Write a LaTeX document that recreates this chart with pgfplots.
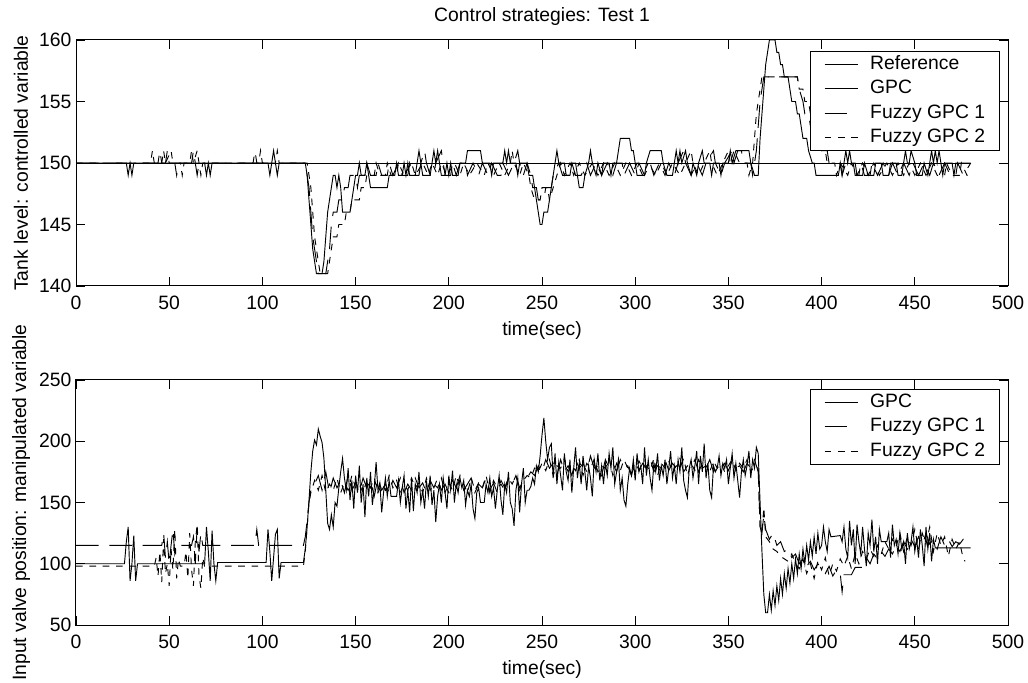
\documentclass[border=0pt]{standalone}
\usepackage{fontspec}
\setmainfont{Liberation Sans}
\usepackage{pgfplots}
\pgfplotsset{compat=1.18}
\pgfplotsset{
  matstyle/.style={
    scale only axis, width=699pt,
    xmin=0, xmax=500, xtick={0,50,...,500},
    tick align=inside, major tick length=6.75pt,
    xtick pos=both, ytick pos=both,
    xticklabel pos=lower, yticklabel pos=left,
    axis line style={line width=0.75pt},
    tick style={black, line width=0.7pt},
    /pgf/number format/assume math mode=true,
    /pgf/number format/1000 sep={},
    ticklabel style={font=\fontsize{14.5}{17}\selectfont},
    xticklabel style={yshift=-4pt},
    label style={font=\fontsize{14.5}{17}\selectfont},
    xlabel={time(sec)},
    every axis y label/.style={at={(axis description cs:-0.059,0.5)}, anchor=center, rotate=90},
    every axis title shift=0pt,
    legend cell align=left,
    legend image code/.code={\draw[#1] (0pt,0pt) -- (24.75pt,0pt);},
    legend style={anchor=north east, draw=black, line width=0.7pt, fill=white,
      inner xsep=10.5pt, inner ysep=3pt, row sep=4.8pt, column sep=9pt,
      font=\fontsize{14.5}{17}\selectfont,
      nodes={inner sep=0pt, text height=10.5pt, text depth=3pt}},
  },
  refl/.style={black, line width=0.7pt},
  gpcl/.style={black, line width=0.7pt},
  fz1l/.style={black, line width=0.7pt, dash pattern=on 17pt off 8pt},
  fz2l/.style={black, line width=0.7pt, dash pattern=on 5pt off 5pt},
}
\begin{document}
\begin{tikzpicture}[font=\fontsize{14.5}{17}\selectfont]
% ---------------- top axis ----------------
\begin{axis}[matstyle,
  at={(57pt,297pt)}, anchor=south west, height=184.5pt,
  ymin=140, ymax=160, ytick={140,145,...,160},
  ylabel={Tank level: controlled variable},
  every axis x label/.style={at={(axis description cs:0.5,-0.179)}, anchor=center},
  title={Control strategies: Test 1},
  title style={at={(axis description cs:0.5,1.0935)}, anchor=center, font=\fontsize{14.5}{17}\selectfont},
  legend style={at={(axis description cs:0.991,0.955)}},
]
\addplot[refl] coordinates {(0,150)(480,150)};
\addlegendentry{Reference}
\addplot[gpcl] coordinates {
(0,150)(27,150)(28,149)(29,150)(30,149)(31,150)(69,150)(70,149)(71,150)(72,149)(73,150)(103,150)(104,149)(105,150)(106,151)(107,150)(108,149)(109,150)
(123,150)(124,149)(125,147)(126,145)(127,143)(128,142)(129,141)(132,141)(133,142)(134,144)(135,146)(136,147)(137,148)(138,149)(139,149)(140,148)(141,149)(142,148)(143,146)(147,146)(148,147)(149,148)(150,149)(151,149)(152,150)(153,149)(155,149)(156,150)(157,149)(158,148)(167,148)(168,149)
(171,149)(172,150)(173,149)(175,149)(176,150)(177,149)(178,150)(179,149)(182,149)(183,150)(184,151)(185,150)(186,149)(190,149)(191,150)(192,151)(193,150)(194,151)(195,150)(196,149)(198,149)(199,150)(200,149)(201,150)(202,149)(205,149)(206,150)(209,150)(210,151)(217,151)(218,150)(222,150)(223,149)(224,150)(229,150)(230,151)(231,150)(232,151)(233,150)(236,150)(237,149)(238,150)(242,150)(243,149)(245,149)(246,148)(247,147)(248,146)(249,145)(250,145)(251,146)(253,146)(254,147)(255,148)(256,149)(257,150)(258,151)(259,150)(262,150)(263,149)(265,149)(266,150)(268,150)(269,149)(270,148)(272,148)(273,149)(275,150)(276,151)(277,150)(279,149)(280,150)(282,149)(283,150)(286,150)(287,149)(288,150)(290,150)(291,151)(292,152)(297,152)(298,151)(299,151)(300,150)(301,149)(305,149)(306,150)(308,151)(314,151)(315,150)(317,149)(320,149)(321,150)(322,151)(323,150)(324,151)(325,150)(327,151)(328,150)(330,149)(331,150)(333,149)(334,150)(336,151)(337,150)(340,150)(341,149)(342,150)(345,150)(346,149)(347,150)(350,150)(351,151)(352,150)(354,151)(361,151)(362,150)(364,149)(366,149)
(367,152)(368,154)(369,156)(370,158)(371,159)(372,160)(375,160)(376,159)(377,159)(378,158)(379,158)(380,157)(382,157)(383,156)(384,155)(386,155)(387,154)(388,154)(389,153)(390,152)(392,152)(393,151)(395,150)(396,150)(397,149)(409,149)(410,150)(411,149)(412,150)(413,151)(414,150)(415,151)(416,150)(418,150)(419,149)(422,149)(423,150)(425,149)(428,149)(429,150)(432,150)(433,149)(436,149)(437,150)(440,150)(441,149)(443,149)(444,150)(445,151)(446,150)(447,150)(448,151)(450,150)(451,149)(454,149)(455,150)(457,149)(458,150)(459,151)(460,150)(461,151)(462,150)(463,151)(464,150)(465,149)(466,150)(470,150)(471,149)(472,150)(480,150)
};
\addlegendentry{GPC}
\addplot[fz1l] coordinates {
(0,150)(44,150)(45,151)(46,150)(48,150)(49,151)(50,150)(53,150)(54,149)(55,150)(62,150)(63,151)(64,150)(65,149)(66,150)(95,150)(96,151)(97,150)
(123,150)(124,149)(125,148)(126,146)(127,144)(128,143)(129,142)(130,141)(134,141)(135,142)(136,143)(137,145)(138,146)(140,146)(141,147)(143,147)(144,148)(146,148)(147,149)(150,149)(151,148)(152,149)(155,149)(156,150)(158,149)(161,149)(162,150)(164,149)(167,149)(168,150)(170,149)(173,150)(175,149)(178,149)(179,150)(181,149)(184,149)(185,150)(187,151)(188,150)(190,149)(192,149)(193,150)(196,151)(197,150)(198,149)(201,149)(202,150)(204,149)(206,150)(209,150)(210,149)(213,150)(216,149)(218,150)(221,149)(223,150)(226,149)(228,149)(229,150)(232,149)(235,150)(237,151)(238,150)(240,149)(242,150)(244,149)(245,148)(247,148)(248,147)(251,147)(252,148)(255,148)(256,149)(259,150)(261,149)(264,149)(266,150)(268,149)(271,149)(274,150)(276,149)(279,150)(282,149)(285,150)(288,149)(290,150)(293,150)(294,149)(297,150)(300,149)(302,150)(305,149)(308,150)(310,149)(313,150)(316,149)(318,150)(321,149)(323,150)(326,151)(327,150)(330,149)(333,150)(336,149)(338,150)(342,151)(343,150)(346,149)(348,150)(352,151)(353,150)(355,151)(357,151)(358,150)(362,150)(363,149)(364,150)
(365,151)(366,153)(367,155)(368,156)(369,157)(387,157)(388,156)(390,155)(391,154)(393,154)(394,153)(396,153)(397,152)(399,152)(400,151)(403,151)(404,150)(410,150)(411,149)(413,150)(417,150)(418,149)(420,149)(421,150)(423,149)(426,149)(427,150)(430,149)(433,150)(436,149)(438,150)(441,149)(444,150)(447,149)(449,150)(452,149)(455,150)(458,149)(460,150)(463,149)(466,150)(469,149)(472,149)(473,150)(476,149)(480,150)
};
\addlegendentry{Fuzzy GPC 1}
\addplot[fz2l] coordinates {
(0,150)(40,150)(41,151)(42,150)(46,150)(47,151)(48,150)(51,151)(52,150)(56,150)(57,149)(58,150)(61,150)(62,151)(63,150)(65,151)(66,150)(67,149)(68,150)(98,150)(99,151)(100,150)(107,150)(108,151)(109,150)
(124,150)(125,149)(126,148)(127,146)(128,144)(129,143)(130,142)(131,141)(135,141)(136,142)(137,143)(138,144)(140,144)(141,145)(144,145)(145,146)(147,146)(148,147)(152,147)(153,148)(155,148)(156,149)(160,149)(161,150)(163,149)(166,149)(167,150)(169,149)(172,149)(173,150)(176,149)(180,150)(182,149)(186,150)(189,149)(191,150)(194,149)(196,150)(199,149)(203,150)(206,149)(208,150)(211,149)(215,150)(219,149)(221,150)(224,149)(227,150)(230,149)(233,150)(234,151)(235,150)(238,149)(240,150)(243,149)(244,148)(246,147)(249,147)(250,148)(253,148)(254,147)(256,148)(258,149)(260,150)(262,149)(265,150)(267,149)(270,150)(273,149)(277,150)(280,149)(283,150)(286,149)(289,150)(292,149)(295,150)(298,149)(301,150)(304,149)(307,150)(311,149)(314,150)(317,149)(320,150)(324,149)(327,150)(330,151)(331,150)(334,149)(337,150)(340,151)(341,150)(344,149)(347,150)(350,151)(351,150)(353,151)(356,150)(360,150)(361,149)(363,150)
(364,152)(365,154)(366,155)(367,156)(368,157)(387,157)(388,156)(390,156)(391,155)(393,155)(394,154)(396,153)(398,152)(400,151)(402,151)(403,150)(407,150)(408,149)(410,150)(414,149)(416,150)(419,149)(422,150)(425,149)(428,150)(431,149)(435,150)(438,149)(441,150)(444,149)(447,150)(450,149)(453,150)(456,149)(459,150)(462,149)(466,149)(467,150)(470,149)(474,149)(475,150)(478,149)(480,149)
};
\addlegendentry{Fuzzy GPC 2}
\end{axis}
% ---------------- bottom axis ----------------
\begin{axis}[matstyle,
  at={(57pt,42.75pt)}, anchor=south west, height=183.75pt,
  ymin=50, ymax=250, ytick={50,100,...,250},
  ylabel={Input valve position: manipulated variable},
  every axis x label/.style={at={(axis description cs:0.5,-0.18)}, anchor=center},
  legend style={at={(axis description cs:0.991,0.963)}},
]
\addplot[gpcl] coordinates {
(0,100)(26,100)(27,118)(28,130)(29,86)(30,100)(31,123)(32,86)(33,100)(69,100)(70,130)(71,110)(72,86)(73,127)(74,100)(75,86)(76,101)(102,101)(103,128)(104,110)(105,86)(106,105)(107,124)(108,128)(109,88)(110,101)(122,101)
(123,112)(124,130)(125,152)(126,175)(127,192)(128,201)(129,197)(130,210)(131,204)(132,199)(133,186)(134,160)(135,133)(136,128)(137,140)(138,130)(139,150)(140,147)(141,162)(142,175)(143,186)(144,170)(145,160)(146,178)(147,152)(148,168)(149,145)(150,172)(151,158)(152,180)(153,150)(154,165)(155,138)(156,170)(157,155)(158,175)(159,148)(160,162)(161,183)(162,160)(163,166)(164,142)(165,158)(166,170)(167,155)(168,168)(169,155)(172,155)
(173,168)(174,150)(175,162)(176,172)(177,145)(178,160)(179,142)(180,170)(181,143)(182,165)(183,158)(184,175)(185,150)(186,160)(187,145)(188,168)(189,155)(190,172)(191,148)(192,160)(193,134)(194,155)(195,165)(196,150)(197,170)(198,158)(199,145)(200,172)(201,160)(202,176)(203,150)(204,165)(205,158)(206,170)(207,162)(208,168)(209,148)(210,160)(211,155)(212,165)(213,145)(214,137)(215,158)(216,162)(217,150)(219,150)(220,165)(221,158)(222,170)(223,155)(224,162)(225,145)(226,160)(227,172)(228,152)(229,140)(230,165)(231,158)(232,175)(233,150)(234,145)(235,131)(236,160)(237,170)(238,142)(239,165)(240,178)(241,150)(242,160)(243,160)(244,163)(245,170)(246,165)(247,180)(248,175)(249,188)(250,205)(251,219)(252,200)(253,185)(254,195)(255,198)(256,170)(257,190)(258,165)(259,183)(260,172)
(261,160)(262,190)(263,175)(264,168)(265,185)(266,158)(267,178)(268,195)(269,170)(270,182)(271,165)(272,188)(273,175)(274,160)(275,180)(276,170)(277,155)(278,185)(279,175)(280,190)(281,168)(282,180)(283,165)(284,182)(285,172)(286,190)(287,178)(288,195)(289,165)(290,175)(291,185)(292,160)(293,170)(294,152)(295,147)(296,165)(297,178)(298,172)(299,185)(300,168)(301,190)(302,175)(303,180)(304,165)(305,195)(306,172)(307,185)(308,170)(309,160)(310,182)(311,175)(312,190)(313,168)(314,180)(315,172)(316,185)(317,165)(318,178)(319,192)(320,170)(321,180)(322,165)(323,185)(324,175)(325,195)(326,168)(327,160)(328,154)(329,178)(330,185)(331,170)(332,180)(333,192)(334,165)(335,188)(336,175)(337,198)(338,170)(339,182)(340,160)(341,154)(342,180)(343,175)(344,178)(345,188)(346,172)(347,182)(348,178)(349,185)(350,165)(351,178)(352,190)(353,170)(354,182)(355,168)(356,154)(357,175)(358,185)(359,172)(360,180)(361,192)(362,170)(363,185)(364,178)(365,195)(366,190)
(367,150)(368,110)(369,75)(370,60)(371,60)(372,75)(373,62)(374,78)(375,66)(376,82)(377,70)(378,88)(379,75)(380,92)(381,80)(382,96)(383,84)(384,100)(385,88)(386,104)(387,92)(388,108)(389,96)(390,112)(391,100)(392,115)(393,103)(394,118)(395,106)(396,122)(397,108)(398,125)(399,112)(400,115)(401,130)(402,118)(403,110)(404,128)(405,122)(410,123)(411,118)(412,130)(413,112)(414,105)(415,135)(416,115)(417,128)(418,100)(419,132)(420,118)(421,108)(422,130)(423,112)(424,98)(425,125)(426,115)(427,136)(428,110)(429,122)(430,100)(431,128)(432,118)(435,118)(436,125)(437,105)(438,132)(439,115)(440,120)(441,108)(442,125)(443,112)(444,118)(445,100)(446,125)(447,112)(448,118)(449,130)(450,110)(451,120)(452,105)(453,128)(454,115)(455,98)(456,130)(457,112)(458,125)(459,102)(460,120)(461,113)(480,113)
};
\addlegendentry{GPC}
\addplot[fz1l] coordinates {
(0,115)(46,115)(47,125)(48,105)(49,118)(50,100)(51,115)(52,128)(53,108)(54,115)(62,115)(63,122)(64,100)(65,130)(66,110)(67,125)(68,115)(96,115)(97,128)(98,115)(122,115)
(123,122)(124,135)(125,150)(126,160)(128,165)(130,172)(132,160)(134,175)(136,158)(138,170)(140,162)(142,168)(144,158)(146,172)(148,160)(150,166)(152,158)(154,170)(156,162)(158,168)(160,155)(162,170)(164,160)(166,165)(168,158)(170,168)(172,162)(174,170)(176,158)(178,165)(180,160)(182,170)(184,162)(186,166)(188,158)(190,168)(192,162)(194,170)(196,160)(198,165)(200,158)(202,168)(204,162)(206,172)(208,160)(210,165)(212,170)(214,158)(216,165)(218,162)(220,170)(222,160)(224,166)(226,158)(228,168)(230,162)(232,170)(234,165)(236,172)(238,162)(240,168)(242,170)(244,175)(246,172)(248,180)(250,175)(252,185)(254,178)(256,182)(258,172)(260,185)(262,175)(264,180)(266,172)(268,185)(270,178)(272,182)(274,175)(276,188)(278,178)(280,180)(282,172)(284,185)(286,178)(288,182)(290,175)(292,185)(294,178)(296,180)(298,172)(300,184)(302,176)(304,182)(306,178)(308,186)(310,175)(312,180)(314,178)(316,185)(318,176)(320,182)(322,178)(324,186)(326,175)(328,180)(330,178)(332,185)(334,175)(336,182)(338,178)(340,185)(342,175)(344,180)(346,178)(348,182)(350,176)(352,184)(354,178)(356,180)(358,175)(360,182)(362,178)(364,185)(366,175)
(367,130)(368,125)(369,140)(370,128)(372,120)(374,125)(376,115)(378,118)(380,110)(382,112)(384,105)(386,108)(388,100)(390,104)(392,98)(394,102)(396,95)(398,100)(400,96)(402,92)(404,98)(406,90)(408,95)(410,92)(411,77)(412,91)(416,91)(418,97)(422,97)(424,105)(426,100)(428,108)(430,104)(432,110)(434,106)(436,112)(438,108)(440,115)(442,110)(444,118)(446,112)(448,120)(450,114)(452,122)(454,115)(456,125)(458,116)(460,120)(462,112)(464,122)(466,115)(468,120)(470,114)(472,118)(474,116)(476,120)(478,118)(480,118)
};
\addlegendentry{Fuzzy GPC 1}
\addplot[fz2l] coordinates {
(0,98)(42,98)(43,105)(44,90)(45,110)(46,85)(47,120)(48,92)(49,100)(50,82)(51,112)(52,95)(53,128)(54,88)(55,104)(56,98)(58,98)(59,110)(60,88)(61,125)(62,95)(63,82)(64,118)(65,132)(66,90)(67,80)(68,105)(69,98)(122,98)
(123,110)(124,130)(125,150)(126,158)(128,168)(130,160)(132,172)(134,158)(136,165)(138,160)(140,170)(142,158)(144,166)(146,160)(148,172)(150,162)(152,165)(154,158)(156,168)(158,162)(160,170)(162,158)(164,165)(166,160)(168,172)(170,162)(172,168)(174,158)(176,165)(178,160)(180,170)(182,162)(184,166)(186,158)(188,170)(190,160)(192,165)(194,162)(196,170)(198,158)(200,166)(202,160)(204,172)(206,162)(208,165)(210,158)(212,170)(214,160)(216,166)(218,162)(220,172)(222,158)(224,168)(226,162)(228,165)(230,160)(232,170)(234,165)(236,172)(238,160)(240,168)(242,172)(244,170)(246,178)(248,175)(250,182)(252,176)(254,185)(256,172)(258,180)(260,178)(262,186)(264,175)(266,180)(268,176)(270,185)(272,172)(274,182)(276,178)(278,185)(280,175)(282,180)(284,178)(286,186)(288,172)(290,182)(292,176)(294,185)(296,178)(298,180)(300,175)(302,184)(304,178)(306,180)(308,176)(310,186)(312,172)(314,182)(316,178)(318,184)(320,175)(322,180)(324,178)(326,186)(328,172)(330,182)(332,176)(334,185)(336,178)(338,180)(340,175)(342,184)(344,178)(346,182)(348,175)(350,180)(352,185)(354,176)(356,182)(358,178)(360,185)(362,175)(364,180)(366,178)
(367,128)(368,126)(369,146)(370,122)(372,118)(374,112)(376,110)(378,106)(380,104)(382,102)(384,108)(386,100)(388,96)(390,104)(392,92)(394,100)(396,88)(398,102)(400,95)(402,105)(404,90)(406,100)(408,94)(410,104)(412,98)(414,106)(416,96)(418,108)(420,100)(422,110)(424,104)(426,112)(428,106)(430,115)(432,108)(434,118)(436,112)(438,120)(440,114)(442,125)(444,110)(446,122)(448,115)(450,128)(452,112)(454,125)(456,116)(458,130)(460,110)(462,125)(464,115)(466,122)(468,106)(470,120)(472,112)(474,118)(476,104)(477,102)
};
\addlegendentry{Fuzzy GPC 2}
\end{axis}
\pgfresetboundingbox
\path[use as bounding box] (0pt,0pt) rectangle (771pt,511.5pt);
\end{tikzpicture}
\end{document}
